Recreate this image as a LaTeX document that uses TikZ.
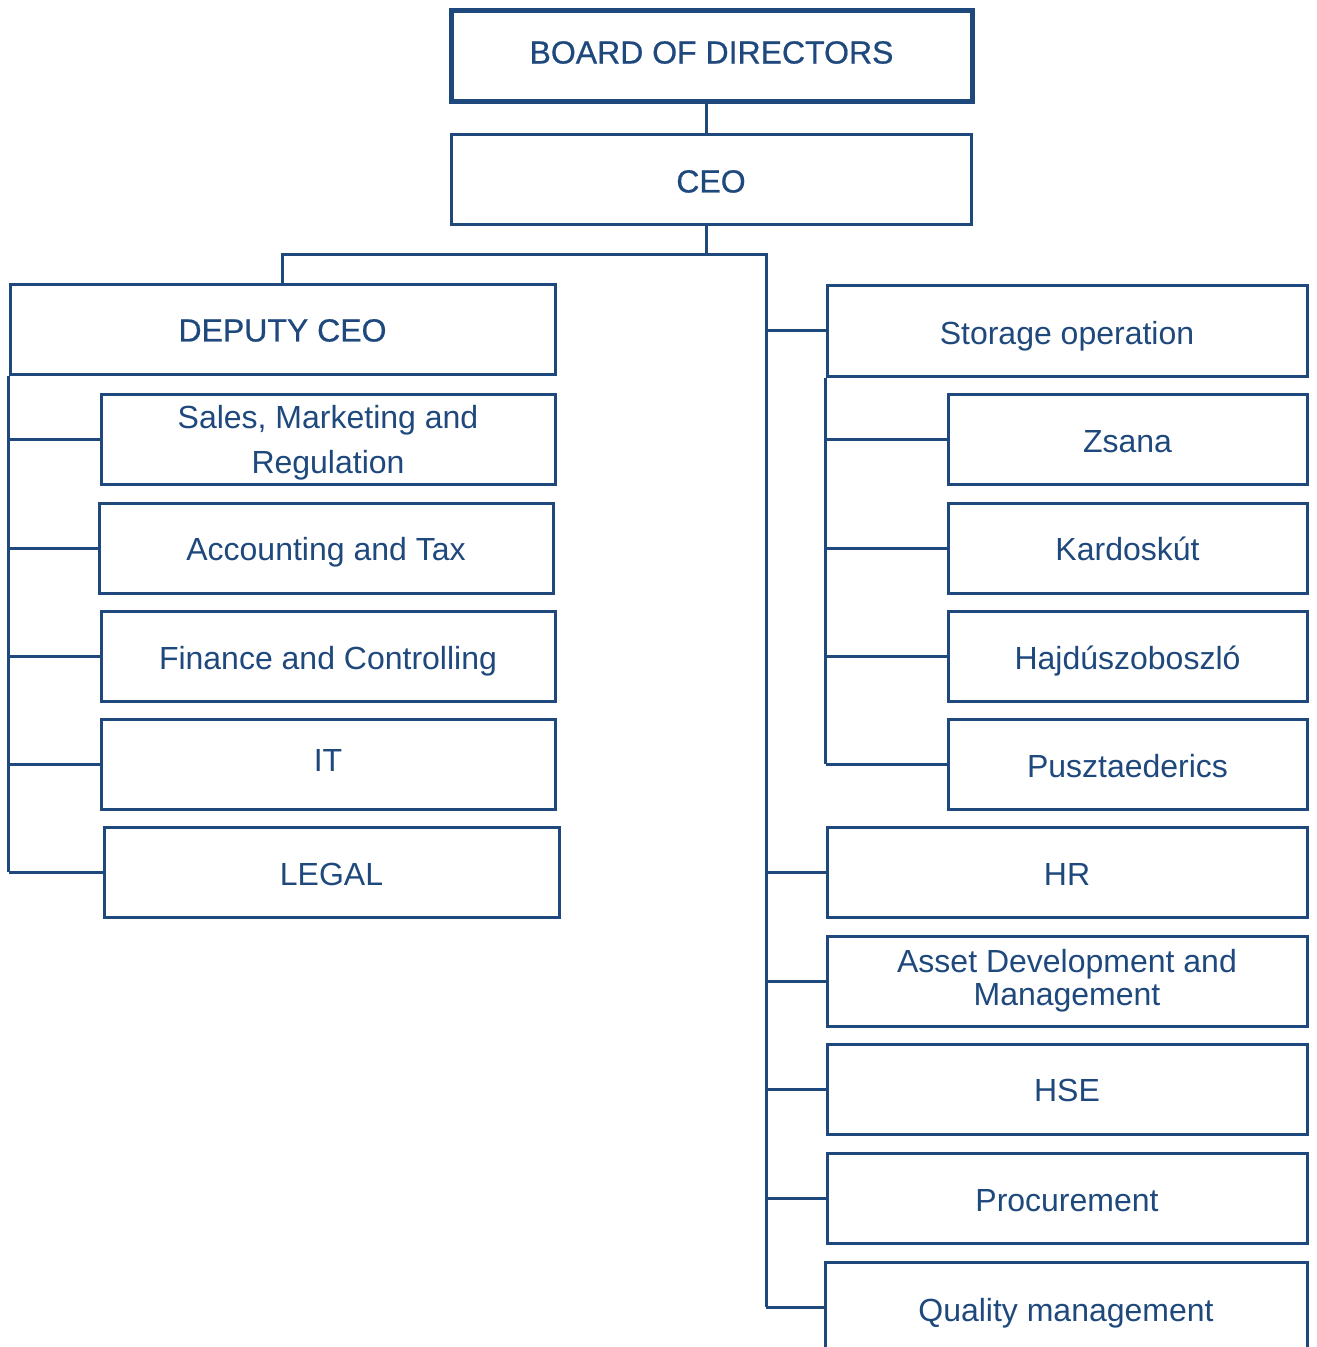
\documentclass[tikz,border=0pt]{standalone}
\usepackage{fontspec}
\setmainfont{Liberation Sans}
\newfontfamily\headfont[FakeBold=0.6]{Liberation Sans}
\definecolor{orgblue}{RGB}{31,73,125}
\begin{document}
\begin{tikzpicture}[x=0.75pt,y=-0.75pt,
  box/.style={draw=orgblue,line width=2.25pt,rectangle,inner sep=0pt,
    text=orgblue,font=\fontsize{24}{33.75}\selectfont,align=center,fill=white},
  one/.style={text height=#1,text depth=0pt},
  one/.default=20.2pt,
  wbox/.style={box,minimum width=360pt,minimum height=67.5pt},
  lbox/.style={box,minimum width=340.5pt,minimum height=67.5pt},
  sbox/.style={box,minimum width=269.25pt,minimum height=67.5pt},
  txt/.style={text=orgblue,inner sep=0pt,font=\fontsize{24}{33.75}\selectfont,align=center},
  ln/.style={draw=orgblue,line width=2.25pt,line join=miter}]
\useasboundingbox (0,0) rectangle (1317,1347);
\clip (0,0) rectangle (1317,1347);
% top
\node[box,one=12pt,line width=3.75pt,minimum width=390.75pt,minimum height=68.25pt,font=\fontsize{24}{30}\selectfont\headfont] (board) at (711.5,55.5) {BOARD OF DIRECTORS};
\node[box,one,minimum width=390pt,minimum height=67.5pt,font=\fontsize{24}{30}\selectfont\headfont] (ceo) at (711,179) {CEO};
% left
\node[box,one=18.7pt,minimum width=408.75pt,minimum height=67.5pt,font=\fontsize{24}{30}\selectfont\headfont] (deputy) at (282.5,329) {DEPUTY CEO};
\node[lbox] (sales) at (328,439) {};
\node[txt] (salest) at (328,443) {Sales, Marketing and\\Regulation};
\node[lbox,one=18.7pt] (acc) at (326,548) {Accounting and Tax};
\node[lbox,one] (fin) at (328,656) {Finance and Controlling};
\node[lbox,one=11.2pt] (it) at (328,764) {IT};
\node[lbox,one,minimum width=341.25pt] (legal) at (331.5,872) {LEGAL};
% right
\node[wbox,one=21pt,minimum height=68.25pt] (storage) at (1067,330.5) {Storage operation};
\node[sbox,one] (zsana) at (1127.5,439) {Zsana};
\node[sbox,one=18.7pt] (kard) at (1127.5,548) {Kardoskút};
\node[sbox,one] (hajdu) at (1127.5,656) {Hajdúszoboszló};
\node[sbox,one] (puszta) at (1127.5,764) {Pusztaederics};
\node[wbox,one] (hr) at (1067,872) {HR};
\node[wbox,font=\fontsize{24}{24.75}\selectfont] (asset) at (1067,981) {Asset Development and\\Management};
\node[wbox,one=18.7pt] (hse) at (1067,1089) {HSE};
\node[wbox,one] (proc) at (1067,1198) {Procurement};
\node[wbox,one=21.7pt,minimum width=361.5pt] (qual) at (1066,1307) {Quality management};
% spine coordinates
\coordinate (cx) at (706,254);
\coordinate (rsp) at (766,254);
% connectors top
\draw[ln] (board.south -| cx) -- (ceo.north -| cx);
\draw[ln] (ceo.south -| cx) -- (cx);
\draw[ln] (deputy.north) |- (rsp) -- (rsp |- qual.west);
% left branches
\draw[ln] (deputy.south west) -- (deputy.south west |- legal.west);
\foreach \n in {sales,acc,fin,it,legal}
  \draw[ln] (deputy.south west |- \n.west) -- (\n.west);
% right branches
\foreach \n in {storage,hr,asset,hse,proc,qual}
  \draw[ln] (rsp |- \n.west) -- (\n.west);
\draw[ln] (storage.south west) -- (storage.south west |- puszta.west);
\foreach \n in {zsana,kard,hajdu,puszta}
  \draw[ln] (storage.south west |- \n.west) -- (\n.west);
\end{tikzpicture}
\end{document}
